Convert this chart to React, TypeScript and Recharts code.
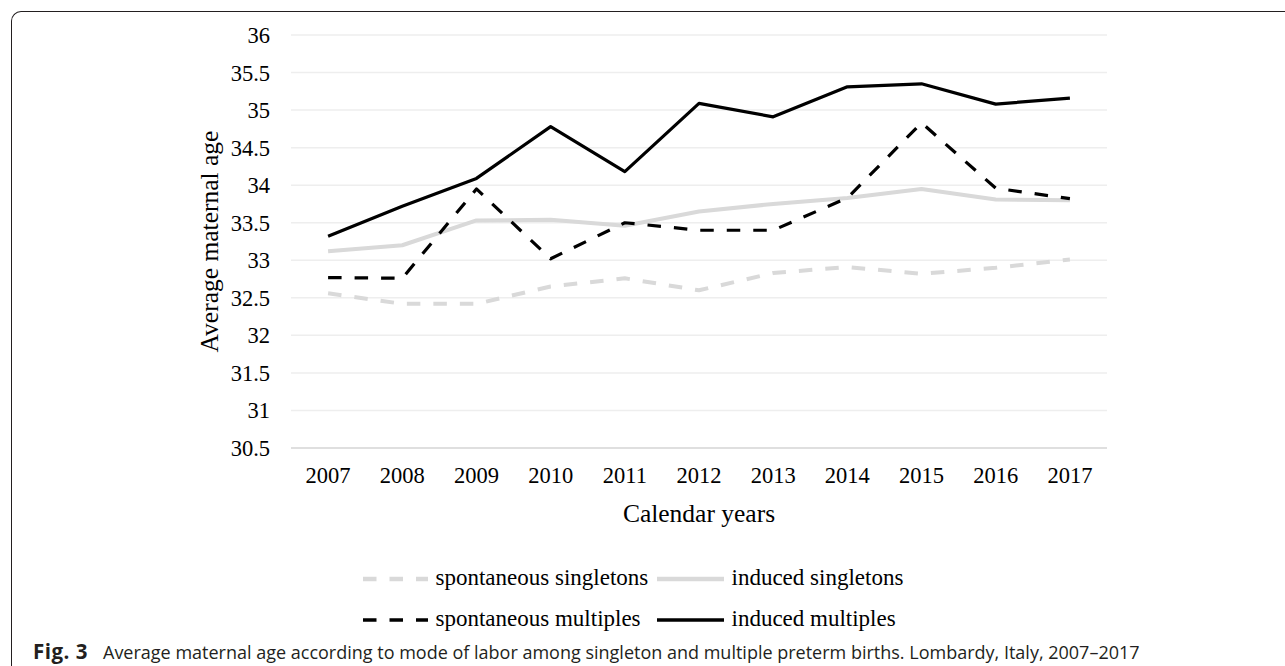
import { CartesianGrid, Label, Legend, Line, LineChart, XAxis, YAxis } from "recharts"

// values
const years = ['2007', '2008', '2009', '2010', '2011', '2012', '2013', '2014', '2015', '2016', '2017']
const spontaneousSingletons = [32.56, 32.42, 32.42, 32.65, 32.76, 32.6, 32.83, 32.91, 32.82, 32.9, 33.01]
const inducedSingletons = [33.12, 33.2, 33.53, 33.54, 33.46, 33.65, 33.75, 33.83, 33.95, 33.81, 33.8]
const spontaneousMultiples = [32.77, 32.76, 33.95, 33.02, 33.5, 33.4, 33.4, 33.83, 34.83, 33.96, 33.82]
const inducedMultiples = [33.32, 33.72, 34.09, 34.78, 34.18, 35.09, 34.91, 35.31, 35.35, 35.08, 35.16]
const yTicks = [30.5, 31, 31.5, 32, 32.5, 33, 33.5, 34, 34.5, 35, 35.5, 36]

const data = years.map((year, i) => ({
  year,
  spontSingle: spontaneousSingletons[i],
  indSingle: inducedSingletons[i],
  spontMulti: spontaneousMultiples[i],
  indMulti: inducedMultiples[i],
}))

const series = [
  { key: 'spontSingle', name: 'spontaneous singletons', color: '#d9d9d9', width: 4, dash: '13.5 13' },
  { key: 'indSingle', name: 'induced singletons', color: '#d9d9d9', width: 4, dash: undefined },
  { key: 'spontMulti', name: 'spontaneous multiples', color: '#000000', width: 3.2, dash: '13.5 13' },
  { key: 'indMulti', name: 'induced multiples', color: '#000000', width: 3.2, dash: undefined },
]

const serif = '"Liberation Serif", "Times New Roman", serif'

function LegendBlock() {
  const rows = [series.slice(0, 2), series.slice(2, 4)]
  return (
    <div style={{ fontFamily: serif, fontSize: 23, color: '#000' }}>
      {rows.map((row, r) => (
        <div key={r} style={{ position: 'relative', height: 41 }}>
          {row.map((s, c) => {
            const iconLeft = c === 0 ? 0 : 294
            const iconWidth = c === 0 ? 65 : 67
            return (
              <div key={s.key}>
                <svg width={iconWidth} height={10} style={{ position: 'absolute', left: iconLeft, top: 16 }}>
                  <line x1={0} y1={5} x2={iconWidth} y2={5} stroke={s.color} strokeWidth={s.width + 0.3} strokeDasharray={s.dash} />
                </svg>
                <span style={{ position: 'absolute', left: iconLeft + iconWidth + 7.5, top: 6, lineHeight: '27px', whiteSpace: 'nowrap' }}>
                  {s.name}
                </span>
              </div>
            )
          })}
        </div>
      ))}
    </div>
  )
}

export default function App() {
  return (
    <div style={{ position: 'absolute', left: 0, top: 0, width: 1285, height: 666, overflow: 'hidden', background: '#fff' }}>
      <div
        style={{
          position: 'absolute', left: 11, top: 11, width: 1290, height: 700,
          borderTop: '1.5px solid #231f20', borderLeft: '1.5px solid #231f20', borderTopLeftRadius: 10,
        }}
      />
      <div style={{ position: 'absolute', left: 0, top: 0 }}>
        <LineChart width={1285} height={666} data={data} margin={{ top: 35, right: 178, left: 127, bottom: 88 }}>
          <CartesianGrid vertical={false} stroke="#eeeeee" strokeWidth={1.5} />
          <XAxis
            dataKey="year"
            scale="band"
            interval={0}
            height={130}
            tickLine={false}
            axisLine={{ stroke: '#d9d9d9', strokeWidth: 1.5 }}
            tickMargin={13.5}
            tick={{ fill: '#000', fontSize: 22.5, fontFamily: serif }}
          >
            <Label value="Calendar years" position="center" fill="#000" fontSize={25.5} fontFamily={serif} />
          </XAxis>
          <YAxis
            type="number"
            domain={[30.5, 36]}
            ticks={yTicks}
            width={164}
            tickLine={false}
            axisLine={false}
            tickMargin={15}
            tick={{ fill: '#000', fontSize: 22.5, fontFamily: serif }}
          >
            <Label value="Average maternal age" position="center" angle={-90} fill="#000" fontSize={25.5} fontFamily={serif} />
          </YAxis>
          {series.map((s) => (
            <Line
              key={s.key}
              type="linear"
              dataKey={s.key}
              name={s.name}
              stroke={s.color}
              strokeWidth={s.width}
              strokeDasharray={s.dash}
              strokeLinejoin="round"
              dot={false}
              activeDot={false}
              isAnimationActive={false}
            />
          ))}
          <Legend
            layout="horizontal"
            verticalAlign="middle"
            align="center"
            wrapperStyle={{ position: 'absolute', left: 363, top: 557.5, width: 600 }}
            content={() => <LegendBlock />}
          />
        </LineChart>
      </div>
      <div
        style={{
          position: 'absolute', left: 33, top: 638, fontFamily: '"Open Sans", "Noto Sans", sans-serif',
          fontSize: 18, color: '#231f20', whiteSpace: 'nowrap', lineHeight: '26px',
        }}
      >
        <b style={{ display: 'inline-block', width: 70, fontSize: 20.5, letterSpacing: 0.5 }}>Fig. 3</b>
        <span>
          Average maternal age according to mode of labor among singleton and multiple preterm births. Lombardy, Italy, 2007–2017
        </span>
      </div>
    </div>
  )
}
